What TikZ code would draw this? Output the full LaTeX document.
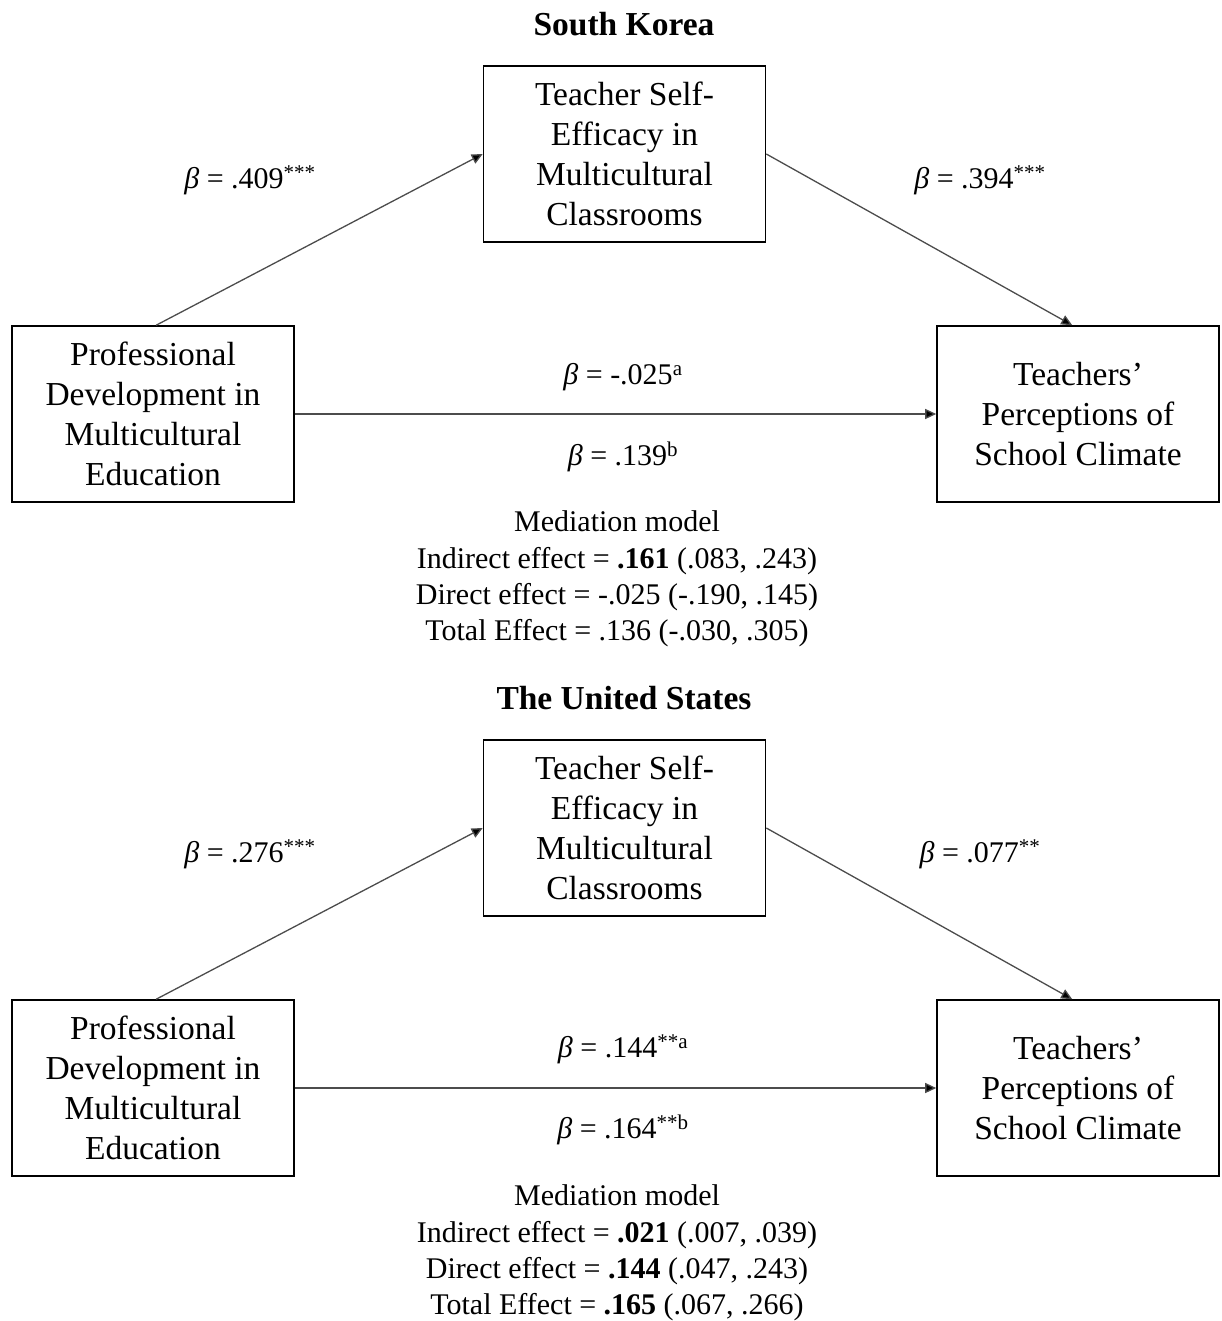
\documentclass[tikz,border=0pt]{standalone}
\usepackage{fontspec}
\setmainfont{Liberation Serif}
\usetikzlibrary{arrows.meta}
\begin{document}
\begin{tikzpicture}[x=1pt,y=-1pt,
  every node/.style={font=\fontsize{30}{40}\selectfont, inner sep=0pt},
  box/.style={draw=black, line width=1.6pt, minimum width=282pt, minimum height=176pt, align=center, fill=white, font=\fontsize{33.5}{40}\selectfont},
  lbl/.style={anchor=center},
  title/.style={font=\fontsize{33.5}{36}\selectfont\bfseries},
  med/.style={align=center, font=\fontsize{30}{36.2}\selectfont},
  conn/.style={draw=black!70, line width=1.3pt, -{Triangle[length=11pt,width=10pt,fill=black]}}]
\useasboundingbox (0,0) rectangle (1221,1321);
\newcommand\bt{\textit{β}}
% ---------- South Korea ----------
\node[title] (T1) at (624,24) {South Korea};
\node[box] (M1) at (624.5,154) {Teacher Self-\\Efficacy in\\Multicultural\\Classrooms};
\node[box] (L1) at (153,414) {Professional\\Development in\\Multicultural\\Education};
\node[box] (R1) at (1078,414) {Teachers’\\Perceptions of\\School Climate};
\draw[conn] ([xshift=145pt]L1.north west) -- (M1.west);
\draw[conn] (M1.east) -- ([xshift=136pt]R1.north west);
\draw[conn] (L1.east) -- (R1.west);
\node[lbl] (a1) at (250,180) {\bt\ = .409\textsuperscript{***}};
\node[lbl] (b1) at (980,180) {\bt\ = .394\textsuperscript{***}};
\node[lbl] (c1) at (623,377) {\bt\ = -.025\textsuperscript{a}};
\node[lbl] (d1) at (623,457) {\bt\ = .139\textsuperscript{b}};
\node[med] (E1) at (617,579) {Mediation model\\Indirect effect = \textbf{.161} (.083, .243)\\Direct effect = -.025 (-.190, .145)\\Total Effect = .136 (-.030, .305)};
% ---------- United States ----------
\node[title] (T2) at (624,698) {The United States};
\node[box] (M2) at (624.5,828) {Teacher Self-\\Efficacy in\\Multicultural\\Classrooms};
\node[box] (L2) at (153,1088) {Professional\\Development in\\Multicultural\\Education};
\node[box] (R2) at (1078,1088) {Teachers’\\Perceptions of\\School Climate};
\draw[conn] ([xshift=145pt]L2.north west) -- (M2.west);
\draw[conn] (M2.east) -- ([xshift=136pt]R2.north west);
\draw[conn] (L2.east) -- (R2.west);
\node[lbl] (a2) at (250,854) {\bt\ = .276\textsuperscript{***}};
\node[lbl] (b2) at (980,854) {\bt\ = .077\textsuperscript{**}};
\node[lbl] (c2) at (623,1049) {\bt\ = .144\textsuperscript{**a}};
\node[lbl] (d2) at (623,1130) {\bt\ = .164\textsuperscript{**b}};
\node[med] (E2) at (617,1253) {Mediation model\\Indirect effect = \textbf{.021} (.007, .039)\\Direct effect = \textbf{.144} (.047, .243)\\Total Effect = \textbf{.165} (.067, .266)};
\end{tikzpicture}
\end{document}
